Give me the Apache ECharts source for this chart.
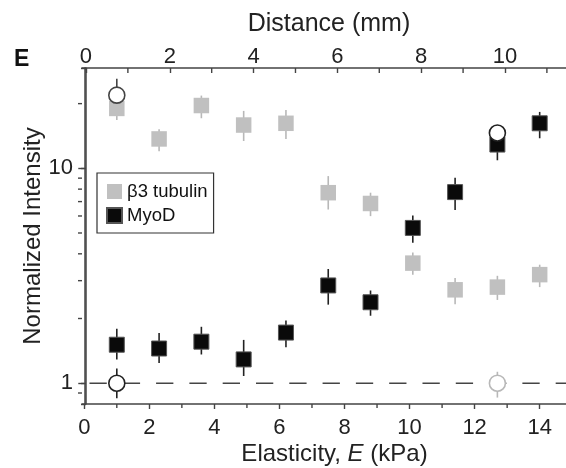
<!DOCTYPE html>
<html>
<head>
<meta charset="utf-8">
<script src="https://cdn.jsdelivr.net/npm/echarts@6/dist/echarts.min.js"></script>
<style>
  html, body { margin: 0; padding: 0; background: #fff; }
  #chart { width: 566px; height: 468px; }
</style>
</head>
<body>
<div id="chart"></div>
<script>
// values
const elasticity = [1.0, 2.3, 3.6, 4.9, 6.2, 7.5, 8.8, 10.1, 11.4, 12.7, 14.0];
const tubulin = [19.0, 13.7, 19.6, 15.9, 16.2, 7.7, 6.86, 3.62, 2.72, 2.8, 3.2];
const tubulinLow = [16.8, 12.0, 17.1, 13.4, 13.7, 6.43, 5.99, 3.2, 2.33, 2.44, 2.8];
const tubulinHigh = [21.7, 15.2, 21.8, 18.5, 18.7, 9.2, 7.7, 4.06, 3.09, 3.16, 3.56];
const myod = [1.51, 1.45, 1.56, 1.29, 1.72, 2.85, 2.38, 5.28, 7.75, 12.9, 16.2];
const myodLow = [1.29, 1.24, 1.36, 1.08, 1.47, 2.32, 2.06, 4.5, 6.39, 10.9, 13.8];
const myodHigh = [1.79, 1.71, 1.83, 1.59, 1.96, 3.4, 2.7, 6.03, 9.05, 15.1, 18.3];

// open circles (controls)
const controlE = [1.0, 1.0, 12.7, 12.7];
const controlValues = [1.0, 21.9, 14.6, 1.0];
const controlLow = [0.85, 18.5, 12.6, 0.857];
const controlHigh = [1.17, 26.1, 15.3, 1.13];

const refLine = [[0.16, 1], [14.84, 1]];

const elasticityTicks = [0, 2, 4, 6, 8, 10, 12, 14];
const elasticityMinorTicks = [1, 3, 5, 7, 9, 11, 13];
const distanceTicks = [0, 2, 4, 6, 8, 10];
const distanceMinorTicks = [1, 3, 5, 7, 9, 11];
const intensityMinorTicks = [0.9, 2, 3, 4, 5, 6, 7, 8, 9, 20];

const FONT = "Liberation Sans";
const AXIS = "#444";
const GRAY = "#c0c0c0";
const BLACK = "#0a0a0a";
const controlColors = ["#222", "#444", "#222", "#b8b8b8"];

const chart = echarts.init(document.getElementById("chart"));

function errorBars(xs, lo, hi, color) {
  return {
    type: "custom",
    xAxisIndex: 0,
    yAxisIndex: 0,
    z: 2,
    silent: true,
    encode: { x: 0, y: [1, 2] },
    data: xs.map((x, i) => [x, lo[i], hi[i], Array.isArray(color) ? i : 0]),
    renderItem(params, api) {
      const a = api.coord([api.value(0), api.value(2)]);
      const b = api.coord([api.value(0), api.value(1)]);
      const c = Array.isArray(color) ? color[api.value(3)] : color;
      return {
        type: "line",
        shape: { x1: a[0], y1: a[1], x2: b[0], y2: b[1] },
        style: { stroke: c, lineWidth: 1.6 }
      };
    }
  };
}

// short tick marks drawn at the grid edge
function minorTicks(values, xAxisIndex, side, len) {
  return {
    type: "custom",
    xAxisIndex: xAxisIndex,
    yAxisIndex: 0,
    clip: false,
    silent: true,
    z: 5,
    data: values.map(v => [v]),
    renderItem(params, api) {
      const cs = params.coordSys;
      let shape;
      if (side === "left") {
        const y = api.coord([0, api.value(0)])[1];
        shape = { x1: cs.x - len, y1: y, x2: cs.x, y2: y };
      } else if (side === "bottom") {
        const x = api.coord([api.value(0), 1])[0];
        shape = { x1: x, y1: cs.y + cs.height, x2: x, y2: cs.y + cs.height + len };
      } else {
        const x = api.coord([api.value(0), 1])[0];
        shape = { x1: x, y1: cs.y, x2: x, y2: cs.y + len };
      }
      return { type: "line", shape: shape, style: { stroke: AXIS, lineWidth: 1.4 } };
    }
  };
}

chart.setOption({
  animation: false,
  backgroundColor: "#fff",
  textStyle: { fontFamily: FONT },
  grid: { left: 82, right: -1, top: 68, bottom: 64, containLabel: false, outerBoundsMode: "none" },
  graphic: [{
    type: "text", left: 14, top: 48,
    style: { text: "E", font: "bold 23px " + FONT, fill: "#111" }
  }],
  legend: {
    left: 97, top: 173,
    orient: "vertical",
    padding: [9, 6, 8, 9],
    itemGap: 5,
    itemWidth: 15, itemHeight: 15,
    borderColor: "#333", borderWidth: 1.2, borderRadius: 0,
    backgroundColor: "#fff",
    textStyle: { fontFamily: FONT, fontSize: 18.5, color: "#111" },
    data: [
      { name: "β3 tubulin", icon: "rect" },
      { name: "MyoD", icon: "rect" }
    ]
  },
  xAxis: [{
    type: "value",
    position: "bottom",
    min: -0.07, max: 14.84,
    name: "Elasticity, {i|E} (kPa)",
    nameLocation: "middle",
    nameMoveOverlap: false,
    nameGap: 38,
    nameTextStyle: {
      fontSize: 24, color: "#222", padding: [0, 0, 0, 20],
      rich: { i: { fontSize: 24, fontStyle: "italic", color: "#222" } }
    },
    axisLine: { lineStyle: { color: AXIS, width: 1.5 } },
    axisTick: { customValues: elasticityTicks, length: 5, lineStyle: { color: AXIS, width: 1.4 } },
    axisLabel: { customValues: elasticityTicks, fontSize: 22, color: "#222", margin: 13 },
    splitLine: { show: false }
  }, {
    type: "value",
    position: "top",
    min: -0.095, max: 11.48,
    name: "Distance (mm)",
    nameLocation: "middle",
    nameMoveOverlap: false,
    nameGap: 31,
    nameTextStyle: { fontSize: 25, color: "#222", padding: [0, 0, 0, 9] },
    axisLine: { lineStyle: { color: AXIS, width: 1.5 } },
    axisTick: { customValues: distanceTicks, inside: true, length: 5, lineStyle: { color: AXIS, width: 1.4 } },
    axisLabel: { customValues: distanceTicks, fontSize: 22, color: "#222", margin: 0 },
    splitLine: { show: false }
  }],
  yAxis: [{
    type: "log",
    logBase: 10,
    min: 0.8, max: 29.3,
    name: "Normalized Intensity",
    nameLocation: "middle",
    nameMoveOverlap: false,
    nameGap: 37,
    nameTextStyle: { fontSize: 24, color: "#222" },
    axisLine: { lineStyle: { color: AXIS, width: 1.5 } },
    axisTick: { length: 6, lineStyle: { color: AXIS, width: 1.4 } },
    axisLabel: { fontSize: 22, color: "#222", margin: 9, showMinLabel: false, showMaxLabel: false },
    minorTick: { show: false },
    splitLine: { show: false }
  }, {
    type: "log",
    logBase: 10,
    min: 0.8, max: 29.3,
    position: "right",
    axisLine: { lineStyle: { color: AXIS, width: 1.5 } },
    axisTick: { inside: true, length: 5, lineStyle: { color: AXIS, width: 1.4 } },
    axisLabel: { show: false },
    splitLine: { show: false }
  }],
  series: [
    {
      type: "line",
      xAxisIndex: 0, yAxisIndex: 0,
      data: refLine,
      symbol: "none",
      silent: true,
      z: 1,
      lineStyle: { color: "#444", width: 1.6, type: [17.3, 16] }
    },
    errorBars(elasticity, tubulinLow, tubulinHigh, "#b8b8b8"),
    errorBars(elasticity, myodLow, myodHigh, "#222"),
    errorBars(controlE, controlLow, controlHigh, controlColors),
    {
      name: "β3 tubulin",
      type: "scatter",
      xAxisIndex: 0, yAxisIndex: 0,
      symbol: "rect",
      symbolSize: 15.5,
      z: 3,
      itemStyle: { color: GRAY, opacity: 1 },
      data: elasticity.map((x, i) => [x, tubulin[i]])
    },
    {
      name: "MyoD",
      type: "scatter",
      xAxisIndex: 0, yAxisIndex: 0,
      symbol: "rect",
      symbolSize: 15,
      z: 3,
      itemStyle: { color: BLACK, borderColor: "#555", borderWidth: 1, opacity: 1 },
      data: elasticity.map((x, i) => [x, myod[i]])
    },
    {
      name: "control",
      type: "scatter",
      xAxisIndex: 0, yAxisIndex: 0,
      symbol: "circle",
      symbolSize: 16,
      z: 4,
      data: controlE.map((x, i) => ({
        value: [x, controlValues[i]],
        itemStyle: { color: "#fff", borderColor: controlColors[i], borderWidth: 1.6, opacity: 1 }
      }))
    },
    minorTicks(intensityMinorTicks, 0, "left", 4),
    minorTicks(elasticityMinorTicks, 0, "bottom", 4),
    minorTicks(distanceMinorTicks, 1, "top", 5)
  ]
});
</script>
</body>
</html>
